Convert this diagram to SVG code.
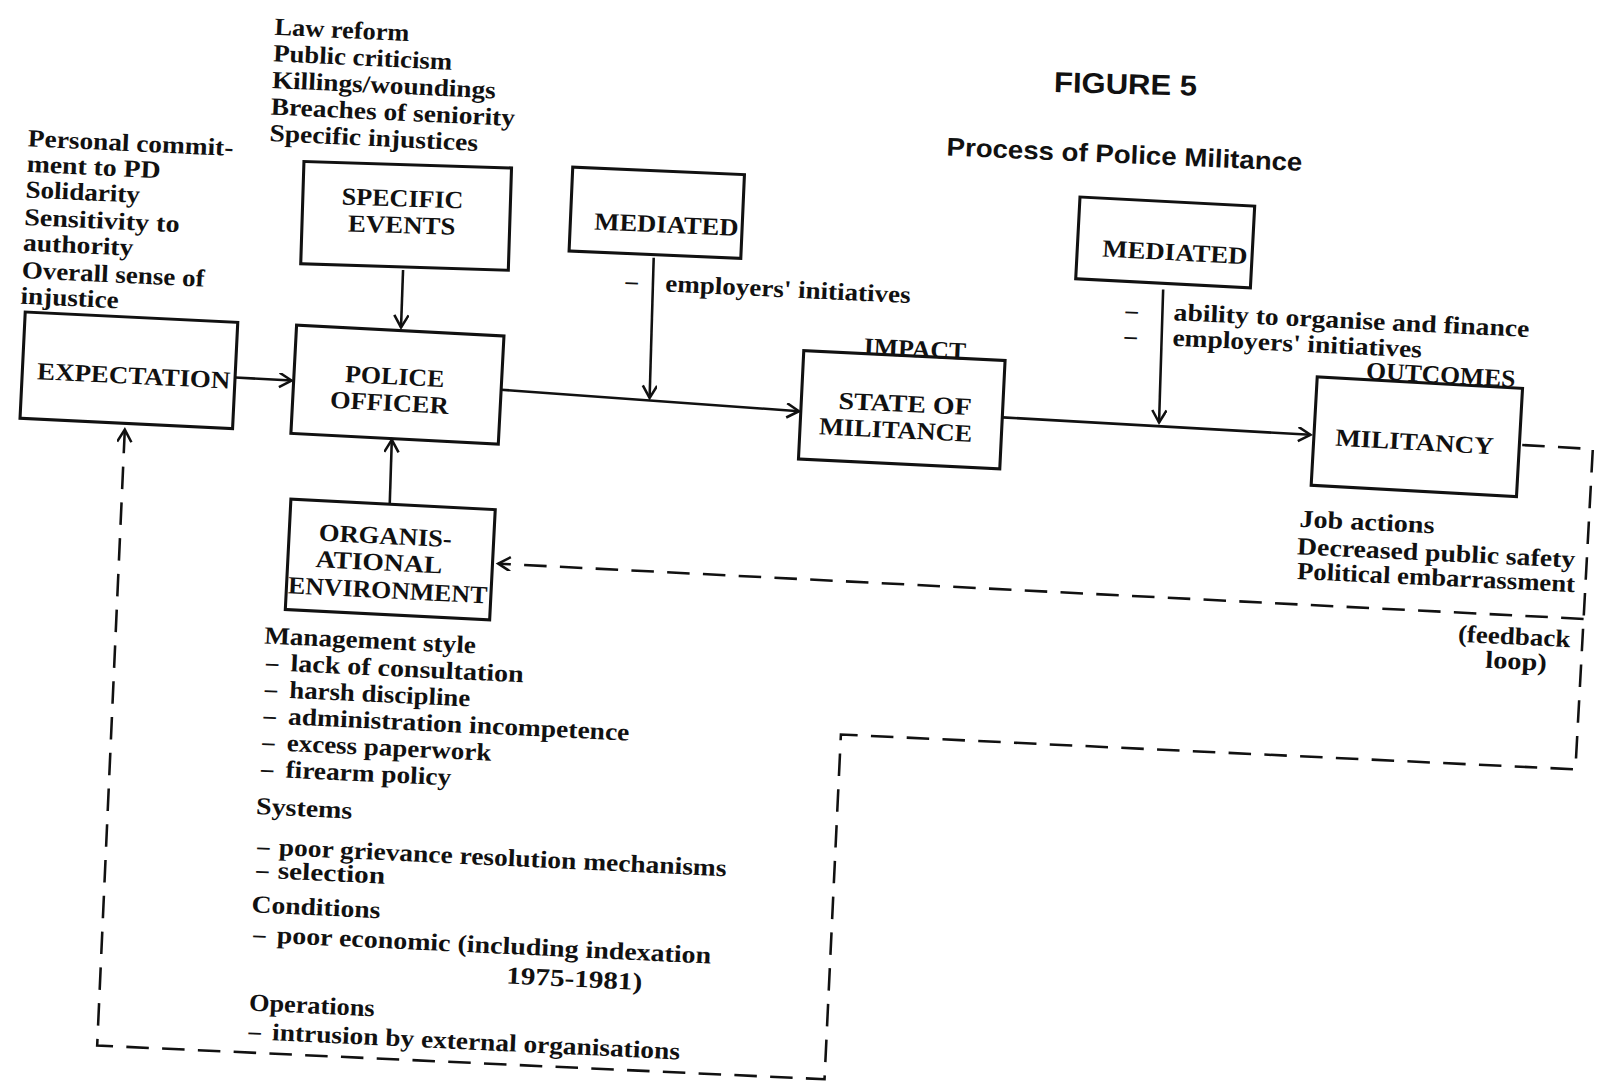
<svg xmlns="http://www.w3.org/2000/svg" width="1604" height="1089" viewBox="0 0 1604 1089">
<style>
.t{font-family:"Liberation Serif","Times New Roman",serif;font-weight:bold;font-size:24px;fill:#111}
.b{font-family:"Liberation Serif","Times New Roman",serif;font-weight:bold;font-size:24px;fill:#111;text-anchor:middle}
.h{font-family:"Liberation Sans",Arial,sans-serif;font-weight:bold;fill:#111}
.box{fill:none;stroke:#111;stroke-width:3}
.ln{fill:none;stroke:#111;stroke-width:2.5}
.dl{fill:none;stroke:#111;stroke-width:2.5;stroke-dasharray:22 13}
</style>
<defs>
<marker id="arr" markerUnits="userSpaceOnUse" markerWidth="16" markerHeight="16" refX="13" refY="7" orient="auto">
<path d="M1,0 L13,7 L1,14" fill="none" stroke="#111" stroke-width="2.5"/>
</marker>
</defs>
<rect width="1604" height="1089" fill="#fff"/>
<g transform="scale(1.023)">
<g id="title">
<text class="h" x="1030" y="90" font-size="28" textLength="140" lengthAdjust="spacingAndGlyphs" transform="rotate(1.5 1030 90)">FIGURE 5</text>
<text class="h" x="925" y="152" font-size="25" textLength="348" lengthAdjust="spacingAndGlyphs" transform="rotate(2.5 925 152)">Process of Police Militance</text>
</g>
<g id="events-list" transform="rotate(2.7 268 34)">
<text class="t" x="268" y="34" textLength="132" lengthAdjust="spacingAndGlyphs">Law reform</text>
<text class="t" x="268" y="60" textLength="175" lengthAdjust="spacingAndGlyphs">Public criticism</text>
<text class="t" x="268" y="86" textLength="219" lengthAdjust="spacingAndGlyphs">Killings/woundings</text>
<text class="t" x="268" y="112" textLength="239" lengthAdjust="spacingAndGlyphs">Breaches of seniority</text>
<text class="t" x="268" y="138" textLength="204" lengthAdjust="spacingAndGlyphs">Specific injustices</text>
</g>
<g id="expectation-list" transform="rotate(2.7 27 143)">
<text class="t" x="27" y="143" textLength="201" lengthAdjust="spacingAndGlyphs">Personal commit-</text>
<text class="t" x="27" y="168" textLength="131" lengthAdjust="spacingAndGlyphs">ment to PD</text>
<text class="t" x="27" y="193" textLength="112" lengthAdjust="spacingAndGlyphs">Solidarity</text>
<text class="t" x="27" y="220" textLength="152" lengthAdjust="spacingAndGlyphs">Sensitivity to</text>
<text class="t" x="27" y="245" textLength="108" lengthAdjust="spacingAndGlyphs">authority</text>
<text class="t" x="27" y="272" textLength="179" lengthAdjust="spacingAndGlyphs">Overall sense of</text>
<text class="t" x="27" y="297" textLength="96" lengthAdjust="spacingAndGlyphs">injustice</text>
</g>
<g id="specific-events" transform="translate(397 211) rotate(1.8)">
<rect class="box" x="-101.5" y="-50" width="203" height="100"/>
<text class="b" x="-4" y="-9" textLength="119" lengthAdjust="spacingAndGlyphs">SPECIFIC</text>
<text class="b" x="-4" y="17" textLength="105" lengthAdjust="spacingAndGlyphs">EVENTS</text>
</g>
<g id="expectation" transform="translate(126 362) rotate(2.8)">
<rect class="box" x="-104" y="-52" width="208" height="104"/>
<text class="b" x="5" y="13" textLength="189" lengthAdjust="spacingAndGlyphs">EXPECTATION</text>
</g>
<g id="police-officer" transform="translate(388.5 376) rotate(3)">
<rect class="box" x="-101.5" y="-53" width="203" height="106"/>
<text class="b" x="-3" y="0" textLength="97" lengthAdjust="spacingAndGlyphs">POLICE</text>
<text class="b" x="-7" y="26" textLength="116" lengthAdjust="spacingAndGlyphs">OFFICER</text>
</g>
<g id="mediated-1" transform="translate(642 208) rotate(2.5)">
<rect class="box" x="-84" y="-41" width="168" height="82"/>
<text class="b" x="10" y="19" textLength="141" lengthAdjust="spacingAndGlyphs">MEDIATED</text>
</g>
<g id="mediated-1-text" transform="rotate(2.7 650 285)">
<text class="t" x="611" y="284">–</text>
<text class="t" x="650" y="285" textLength="240" lengthAdjust="spacingAndGlyphs">employers' initiatives</text>
</g>
<g id="state-of-militance" transform="translate(881.5 400.5) rotate(2.8)">
<rect class="box" x="-98.5" y="-53" width="197" height="106"/>
<text class="b" x="3" y="2" textLength="130" lengthAdjust="spacingAndGlyphs">STATE OF</text>
<text class="b" x="-5" y="28" textLength="150" lengthAdjust="spacingAndGlyphs">MILITANCE</text>
<text class="b" x="10" y="-52" textLength="100" lengthAdjust="spacingAndGlyphs">IMPACT</text>
</g>
<g id="mediated-2" transform="translate(1139 237) rotate(3)">
<rect class="box" x="-85.5" y="-40" width="171" height="80"/>
<text class="b" x="10" y="17" textLength="142" lengthAdjust="spacingAndGlyphs">MEDIATED</text>
</g>
<g id="mediated-2-text" transform="rotate(2.7 1147 313)">
<text class="t" x="1100" y="313">–</text>
<text class="t" x="1100" y="338">–</text>
<text class="t" x="1147" y="313" textLength="348" lengthAdjust="spacingAndGlyphs">ability to organise and finance</text>
<text class="t" x="1147" y="338" textLength="244" lengthAdjust="spacingAndGlyphs">employers' initiatives</text>
</g>
<g id="militancy" transform="translate(1385 427) rotate(3.2)">
<rect class="box" x="-100.5" y="-53" width="201" height="106"/>
<text class="b" x="-2" y="13" textLength="155" lengthAdjust="spacingAndGlyphs">MILITANCY</text>
<text class="b" x="20" y="-54" textLength="146" lengthAdjust="spacingAndGlyphs">OUTCOMES</text>
</g>
<g id="militancy-list" transform="rotate(2.7 1270 515)">
<text class="t" x="1270" y="515" textLength="132" lengthAdjust="spacingAndGlyphs">Job actions</text>
<text class="t" x="1269" y="542" textLength="272" lengthAdjust="spacingAndGlyphs">Decreased public safety</text>
<text class="t" x="1270" y="566" textLength="272" lengthAdjust="spacingAndGlyphs">Political embarrassment</text>
<text class="t" x="1430" y="620" textLength="110" lengthAdjust="spacingAndGlyphs">(feedback</text>
<text class="t" x="1458" y="644" textLength="60" lengthAdjust="spacingAndGlyphs">loop)</text>
</g>
<g id="organisational-environment" transform="translate(381.5 547) rotate(2.9)">
<rect class="box" x="-100" y="-54" width="200" height="108"/>
<text class="b" x="-6" y="-15" textLength="130" lengthAdjust="spacingAndGlyphs">ORGANIS-</text>
<text class="b" x="-11" y="11" textLength="124" lengthAdjust="spacingAndGlyphs">ATIONAL</text>
<text class="b" x="-1" y="38" textLength="195" lengthAdjust="spacingAndGlyphs">ENVIRONMENT</text>
</g>
<g id="organisation-list" transform="translate(0 -4) rotate(2.7 258 633)">
<text class="t" x="258" y="633" textLength="207" lengthAdjust="spacingAndGlyphs">Management style</text>
<text class="t" x="261" y="659">–</text>
<text class="t" x="285" y="659" textLength="228" lengthAdjust="spacingAndGlyphs">lack of consultation</text>
<text class="t" x="261" y="685">–</text>
<text class="t" x="285" y="685" textLength="177" lengthAdjust="spacingAndGlyphs">harsh discipline</text>
<text class="t" x="261" y="711">–</text>
<text class="t" x="285" y="711" textLength="334" lengthAdjust="spacingAndGlyphs">administration incompetence</text>
<text class="t" x="261" y="737">–</text>
<text class="t" x="285" y="737" textLength="200" lengthAdjust="spacingAndGlyphs">excess paperwork</text>
<text class="t" x="261" y="763">–</text>
<text class="t" x="285" y="763" textLength="162" lengthAdjust="spacingAndGlyphs">firearm policy</text>
<text class="t" x="258" y="800" textLength="94" lengthAdjust="spacingAndGlyphs">Systems</text>
<text class="t" x="261" y="839">–</text>
<text class="t" x="282" y="839" textLength="438" lengthAdjust="spacingAndGlyphs">poor grievance resolution mechanisms</text>
<text class="t" x="261" y="862">–</text>
<text class="t" x="282" y="862" textLength="105" lengthAdjust="spacingAndGlyphs">selection</text>
<text class="t" x="258" y="896" textLength="126" lengthAdjust="spacingAndGlyphs">Conditions</text>
<text class="t" x="261" y="925">–</text>
<text class="t" x="284" y="925" textLength="425" lengthAdjust="spacingAndGlyphs">poor economic (including indexation</text>
<text class="t" x="510" y="954" textLength="133" lengthAdjust="spacingAndGlyphs">1975-1981)</text>
<text class="t" x="260" y="992" textLength="123" lengthAdjust="spacingAndGlyphs">Operations</text>
<text class="t" x="261" y="1020">–</text>
<text class="t" x="284" y="1020" textLength="399" lengthAdjust="spacingAndGlyphs">intrusion by external organisations</text>
</g>
<g id="connectors">
<path class="ln" d="M230,369 L285,372" marker-end="url(#arr)"/>
<path class="ln" d="M394,264 L392,320" marker-end="url(#arr)"/>
<path class="ln" d="M381,492 L383,430" marker-end="url(#arr)"/>
<path class="ln" d="M490,381 L781,402" marker-end="url(#arr)"/>
<path class="ln" d="M639,252 L635,389" marker-end="url(#arr)"/>
<path class="ln" d="M980,408 L1281,425" marker-end="url(#arr)"/>
<path class="ln" d="M1137,283 L1133,413" marker-end="url(#arr)"/>
<path class="dl" d="M1488,435 L1557,439 L1540,752 L822,718 L806,1055 L95,1022 L122,420" marker-end="url(#arr)"/>
<path class="dl" d="M1548,605 L487,551" marker-end="url(#arr)"/>
</g>
</g>
</svg>
